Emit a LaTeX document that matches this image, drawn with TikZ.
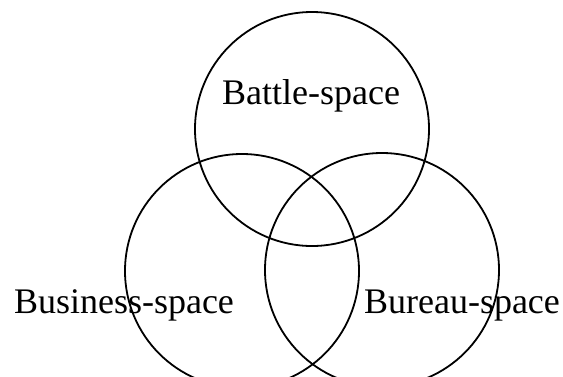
\documentclass[tikz,border=0pt]{standalone}
\usepackage{fontspec}
\setmainfont{Liberation Serif}
\usepackage{tikz}
\tikzset{
  space/.style={circle,draw,line width=1.8pt,minimum size=234pt,inner sep=0pt},
  spacelabel/.style={anchor=base,font=\fontsize{36}{40}\selectfont,inner sep=0pt}
}

\begin{document}
\begin{tikzpicture}[x=1pt,y=-1pt]
    \useasboundingbox (0,0) rectangle (563,376);
    \clip (0,0) rectangle (563,376);
    \node[space] (battle) at (312,129) {};
    \node[space] (business) at (242,271) {};
    \node[space] (bureau) at (382,270) {};
    \node[spacelabel] (battletext) at (311,104) {Battle-space};
    \node[spacelabel] (businesstext) at (124,313) {Business-space};
    \node[spacelabel] (bureautext) at (462,313) {Bureau-space};
  \end{tikzpicture}
\end{document}
